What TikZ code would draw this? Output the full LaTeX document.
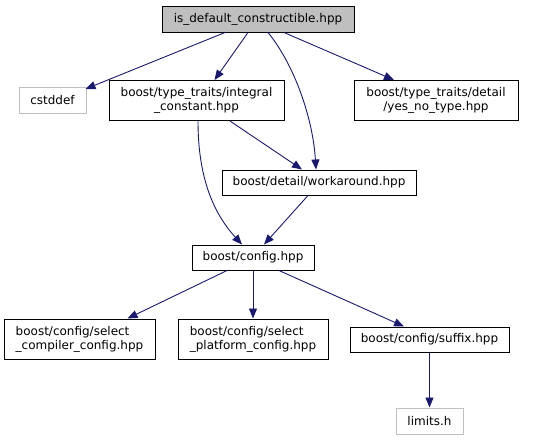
\documentclass[tikz,border=0pt]{standalone}
\usepackage{fontspec}
\setmainfont{DejaVu Sans}
\usetikzlibrary{arrows.meta}
\definecolor{edgec}{HTML}{191970}
\definecolor{rootfill}{HTML}{BFBFBF}
\definecolor{extc}{HTML}{BFBFBF}
\tikzset{
  box/.style={draw=black, line width=1pt, inner sep=0pt, font=\fontsize{12}{14}\selectfont, align=center},
  extbox/.style={box, draw=extc},
  edge/.style={draw=edgec, line width=0.9pt, -{Triangle[length=10pt,width=8pt]}}
}
\begin{document}
\begin{tikzpicture}[x=1pt,y=-1pt]
\useasboundingbox (0,0) rectangle (556,440);
\node[box, fill=rootfill, minimum width=192pt, minimum height=26pt] (root) at (258,19) {is\_default\_constructible.hpp};
\node[extbox, minimum width=67pt, minimum height=26pt] (cstd) at (52.5,100.5) {cstddef};
\node[box, minimum width=175pt, minimum height=40pt] (integ) at (196.5,100.5) {boost/type\_traits/integral\\\_constant.hpp};
\node[box, minimum width=164pt, minimum height=40pt] (yesno) at (436,100.5) {boost/type\_traits/detail\\/yes\_no\_type.hpp};
\node[box, minimum width=194pt, minimum height=25pt] (work) at (319,182.5) {boost/detail/workaround.hpp};
\node[box, minimum width=122pt, minimum height=25pt] (config) at (253,257.5) {boost/config.hpp};
\node[box, align=left, minimum width=151pt, minimum height=40pt] (comp) at (79.5,339) {boost/config/select\\\_compiler\_config.hpp};
\node[box, align=left, minimum width=150pt, minimum height=40pt] (plat) at (253,339) {boost/config/select\\\_platform\_config.hpp};
\node[box, minimum width=159pt, minimum height=25pt] (suffix) at (429.5,339.5) {boost/config/suffix.hpp};
\node[extbox, minimum width=67pt, minimum height=26pt] (limits) at (429.5,421) {limits.h};

\draw[edge] ([xshift=-33pt]root.south) -- ([xshift=33pt,yshift=-2pt]cstd.north);
\draw[edge] ([xshift=-10pt]root.south) -- ([xshift=18pt]integ.north);
\draw[edge] ([xshift=10pt]root.south) .. controls ([xshift=37pt,yshift=-33pt]root.south) and ([xshift=-6pt,yshift=50pt]work.north) .. ([xshift=-3pt]work.north);
\draw[edge] ([xshift=26pt]root.south) -- ([xshift=-42pt]yesno.north);
\draw[edge] ([xshift=33.5pt]integ.south) -- ([xshift=-17pt]work.north);
\draw[edge] ([xshift=1.5pt]integ.south) .. controls ([xshift=1.5pt,yshift=-50pt]integ.south) and ([xshift=-43pt,yshift=35pt]config.north) .. ([xshift=-11pt]config.north);
\draw[edge] ([xshift=-11pt]work.south) -- ([xshift=11pt]config.north);
\draw[edge] ([xshift=-26pt]config.south) -- ([xshift=48pt]comp.north);
\draw[edge] (config.south) -- (plat.north);
\draw[edge] ([xshift=26pt]config.south) -- ([xshift=-25.5pt]suffix.north);
\draw[edge] (suffix.south) -- (limits.north);
\end{tikzpicture}
\end{document}
